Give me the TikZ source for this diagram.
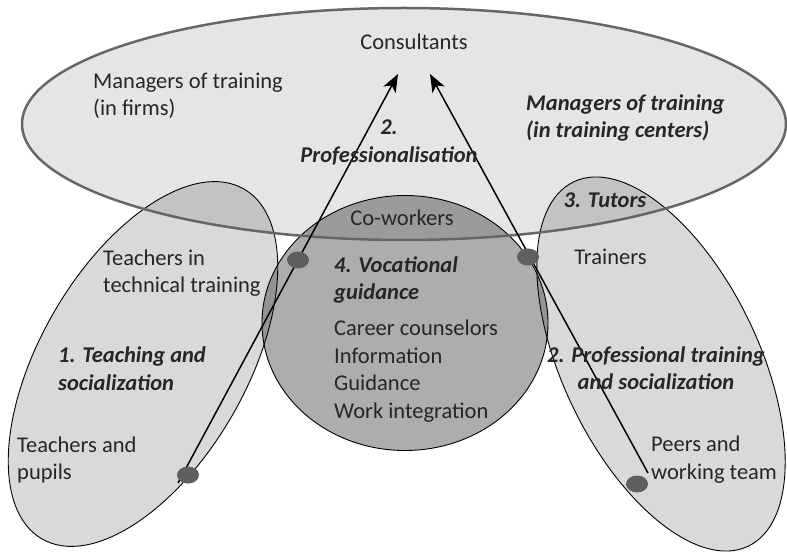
\documentclass[tikz,border=0pt]{standalone}
\usepackage{fontspec}
\setmainfont{Carlito}
\usetikzlibrary{arrows.meta,shapes.geometric}
\definecolor{textgray}{HTML}{262626}
\definecolor{dotgray}{HTML}{5F5F5F}
\definecolor{bigline}{HTML}{666666}
\begin{document}
\begin{tikzpicture}[x=1pt,y=1pt,
  txt/.style={text=textgray, inner sep=0pt, font=\fontsize{22.5}{27.5}\selectfont},
  bi/.style={text=textgray, inner sep=0pt, font=\fontsize{22.5}{27.5}\selectfont\bfseries\itshape},
  dotmark/.style={ellipse, fill=dotgray, minimum width=22pt, minimum height=17pt, inner sep=0pt},
  arr/.style={line width=1.5pt, -{Stealth[length=18pt,width=14pt,inset=5pt]}},
  thinline/.style={draw=black, line width=0.9pt},
  bigfill/.style={fill=black, fill opacity=0.10},
  sidefill/.style={fill=black, fill opacity=0.15},
  midfill/.style={fill=black, fill opacity=0.32}
]
\useasboundingbox (0,0) rectangle (787,552);
% fills
\fill[bigfill] (404,428) ellipse [x radius=382, y radius=116];
\fill[sidefill, rotate around={60:(143,188)}] (143,188) ellipse [x radius=202, y radius=103];
\fill[sidefill, rotate around={115.6:(661,188)}] (661,188) ellipse [x radius=202, y radius=98];
\fill[midfill] (405,229) ellipse [x radius=143, y radius=127.5];
% outlines
\draw[thinline, rotate around={60:(143,188)}] (143,188) ellipse [x radius=202, y radius=103];
\draw[thinline, rotate around={115.6:(661,188)}] (661,188) ellipse [x radius=202, y radius=98];
\draw[thinline] (405,229) ellipse [x radius=143, y radius=127.5];
\draw[bigline, line width=2.5pt] (404,428) ellipse [x radius=382, y radius=116];
% arrows
\coordinate (ls) at (178,69);
\coordinate (lt) at (398,478);
\coordinate (rs) at (648,79);
\coordinate (rt) at (430,478);
\draw[arr] (ls) -- (lt);
\draw[arr] (rs) -- (rt);
% dots
\node[dotmark] (d1) at (298,292) {};
\node[dotmark] (d2) at (528,295) {};
\node[dotmark] (d3) at (188,77) {};
\node[dotmark] (d4) at (637,68) {};
% texts
\node[txt] (cons) at (414,510) {Consultants};
\node[txt, anchor=west, align=left] (mgf) at (93,456) {Managers of training\\(in firms)};
\node[bi, anchor=west, align=left] (mgc) at (526,434) {Managers of training\\(in training centers)};
\node[bi, align=center] (prof) at (389,409.5) {2.\\Professionalisation};
\node[bi] (tut) at (605,352) {3. Tutors};
\node[txt] (trn) at (610.5,295) {Trainers};
\node[txt] (cow) at (402,334) {Co-workers};
\node[bi, anchor=west, align=left] (voc) at (334,272) {4. Vocational\\guidance};
\node[txt, anchor=west, align=left] (car) at (334,181) {Career counselors\\Information\\Guidance\\Work integration};
\node[txt, anchor=west, align=left] (tech) at (103,279) {Teachers in\\technical training};
\node[bi, anchor=west, align=left] (teach) at (58,183.5) {1. Teaching and\\socialization};
\node[txt, anchor=west, align=left] (pup) at (17,92) {Teachers and\\pupils};
\node[bi, align=center] (ptr) at (656,184) {2. Professional training\\and socialization};
\node[txt, anchor=west, align=left] (peer) at (651,92.5) {Peers and\\working team};
\end{tikzpicture}
\end{document}
